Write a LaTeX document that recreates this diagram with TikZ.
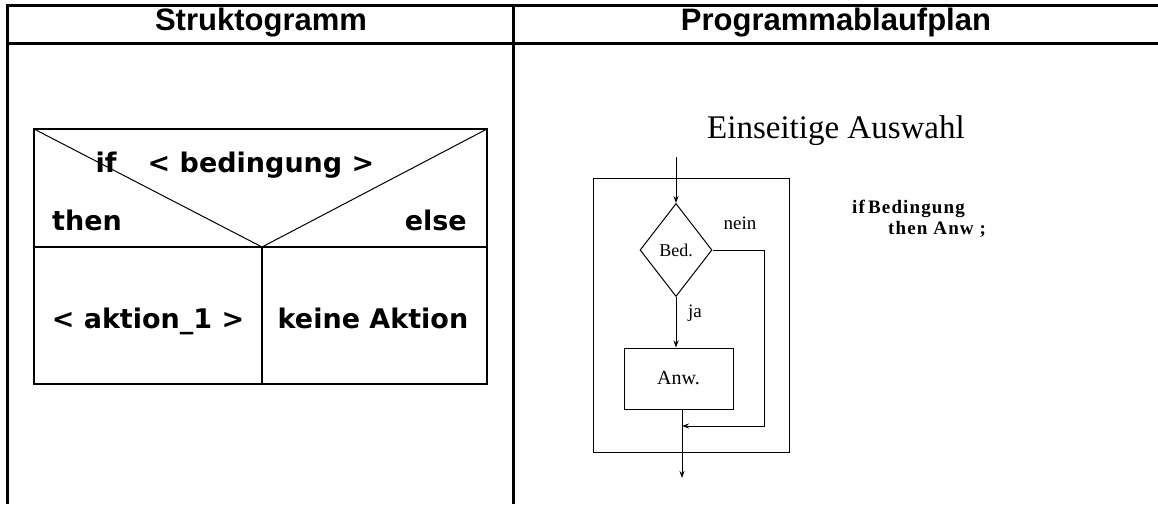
\documentclass[tikz,border=0pt]{standalone}
\usepackage{fontspec}
\setmainfont{Liberation Serif}
\newfontfamily\headfont{Liberation Sans}
\newfontfamily\pixfont{DejaVu Sans}
\newfontfamily\codefont[LetterSpace=6]{Liberation Serif}
\usetikzlibrary{shapes.geometric,arrows.meta}
\begin{document}
\begin{tikzpicture}[x=1pt,y=-1pt,
    grid/.style={line width=3pt},
    head/.style={font=\headfont\bfseries\fontsize{31}{36}\selectfont},
    nslabel/.style={inner sep=0pt,font=\pixfont\bfseries\fontsize{27}{30}\selectfont},
    paplabel/.style={inner sep=0pt,font=\fontsize{19}{22}\selectfont},
    code/.style={inner sep=0pt,anchor=base west,font=\codefont\bfseries\fontsize{19}{22}\selectfont},
    flow/.style={line width=1pt},
    arr/.style={flow,-{Stealth[length=7pt,width=5pt]}}]
  \useasboundingbox (0,0) rectangle (1158,504);

  % table
  \draw[grid] (1158,5) -- (7,5) -- (7,504);
  \draw[grid] (7,43) -- (1158,43);
  \draw[grid] (513,5) -- (513,504);
  \node[head,anchor=base] (hleft) at (261,30) {Struktogramm};
  \node[head,anchor=base] (hright) at (836,30) {Programmablaufplan};

  % Struktogramm
  \coordinate (nw) at (34,129);
  \coordinate (ne) at (487,129);
  \coordinate (tip) at (262,247);
  \draw[line width=2pt] (nw) rectangle (487,384);
  \draw[line width=2pt] (34,247) -- (487,247);
  \draw[line width=2pt] (tip) -- (262,384);
  \draw[line width=1pt] (nw) -- (tip) -- (ne);
  \node[nslabel,anchor=base] (if) at (106,172) {if};
  \node[nslabel,anchor=base] (cond) at (261,172) {< bedingung >};
  \node[nslabel,anchor=base west] (then) at (52,230) {then};
  \node[nslabel,anchor=base east] (else) at (467,230) {else};
  \node[nslabel,anchor=base] (act) at (148,328) {< aktion\_1 >};
  \node[nslabel,anchor=base] (none) at (373,328) {keine Aktion};

  % Programmablaufplan
  \node[font=\fontsize{33}{36}\selectfont,anchor=base] (title) at (836,138) {Einseitige Auswahl};
  \node[draw,flow,minimum width=196pt,minimum height=274pt] (frame) at (691,315) {};
  \node[draw,flow,diamond,inner sep=0pt,minimum width=72pt,minimum height=93pt,
        font=\fontsize{18}{20}\selectfont] (bed) at (676,250) {Bed.};
  \node[draw,flow,minimum width=109pt,minimum height=61pt,
        font=\fontsize{20}{22}\selectfont] (anw) at (678.5,378.5) {Anw.};
  \node[paplabel] (nein) at (740,223) {nein};
  \node[paplabel] (ja) at (695,313) {ja};
  \coordinate (in) at (676,157);
  \coordinate (corner) at (764,426);
  \coordinate (join) at (682,426);
  \coordinate (out) at (682,478);
  \draw[arr] (in) -- (bed.north);
  \draw[arr] (bed.south) -- (bed.south |- anw.north);
  \draw[arr] (bed.east) -| (corner) -- (join);
  \draw[arr] (anw.south -| out) -- (out);

  % Pascal
  \node[code] (code1) at (852,213) {if\,Bedingung};
  \node[code] (code2) at (888,234) {then Anw ;};
\end{tikzpicture}
\end{document}
